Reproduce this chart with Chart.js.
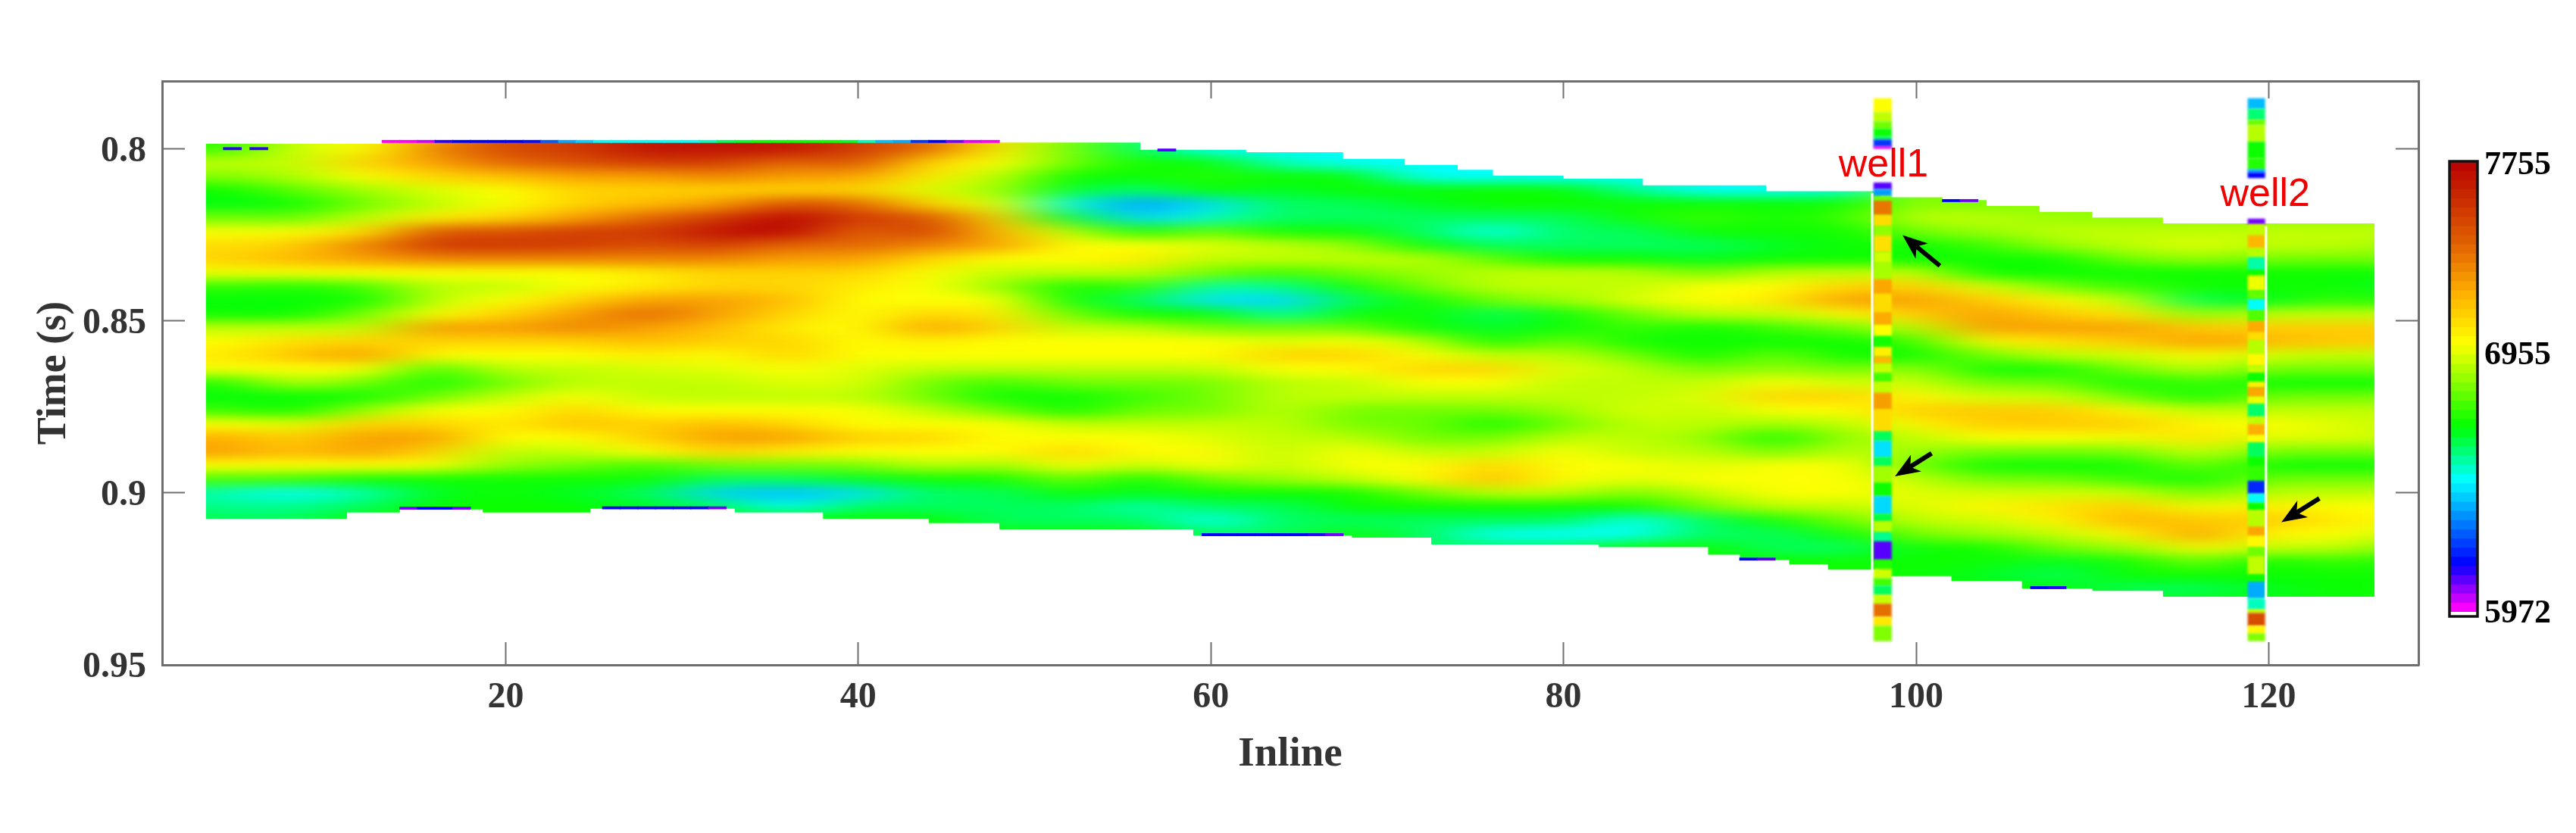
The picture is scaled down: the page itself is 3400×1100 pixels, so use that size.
<!DOCTYPE html>
<html><head><meta charset="utf-8"><title>Inline section with wells</title>
<style>
html,body{margin:0;background:#fff;width:3400px;height:1100px;overflow:hidden}
canvas{position:absolute;display:block}
</style>
<script src="https://cdn.jsdelivr.net/npm/chart.js@4"></script>
</head><body>
<canvas id="main" width="3400" height="1100" style="left:0;top:0;width:3400px;height:1100px"></canvas>
<canvas id="bar" width="200" height="650" style="left:3200px;top:190px;width:200px;height:650px"></canvas>
<script>
const inlineTicks=[20,40,60,80,100,120];
const timeTicks=[0.8,0.85,0.9,0.95];
const timeLabels=['0.8','0.85','0.9','0.95'];
const rowTimes=[0.796,0.8,0.804,0.808,0.812,0.816,0.82,0.824,0.828,0.832,0.836,0.84,0.844,0.848,0.852,0.856,0.86,0.864,0.868,0.872,0.876,0.88,0.884,0.888,0.892,0.896,0.9,0.904,0.908,0.912,0.916,0.92,0.924,0.928,0.932,0.936];
const colInlines=[0,4,8,12,16,20,24,28,32,36,40,44,48,52,56,60,64,68,72,76,80,84,88,92,96,100,104,108,112,116,120,124,128];
const col000=[6740,6800,6960,6880,6730,6720,6860,7030,7130,7130,7020,6780,6720,6740,6960,7040,7090,7020,6760,6720,6800,7040,7240,7280,7040,6820,6620,6630,6680,6700,6700,6700,6700,6700,6700,6700];
const col004=[6740,6780,6960,6880,6730,6700,6860,7030,7130,7150,7020,6780,6710,6730,6960,7040,7090,7030,6760,6710,6790,7040,7240,7280,7040,6800,6560,6600,6650,6700,6700,6700,6700,6700,6700,6700];
const col008=[6980,6980,6960,6940,6830,6730,6840,7030,7160,7220,7030,6750,6720,6720,6960,7120,7190,7040,6950,6720,6730,7000,7150,7200,7040,6790,6500,6600,6640,6660,6660,6660,6660,6660,6660,6660];
const col012=[7040,7040,7150,7040,6920,6860,6960,7120,7350,7280,7040,6800,6730,6860,6960,7150,7280,7040,6860,6730,6910,7150,7280,7280,7040,6730,6570,6640,6730,6730,6730,6730,6730,6730,6730,6730];
const col016=[7250,7350,7280,7150,7000,6960,7090,7480,7580,7350,7040,6960,6960,7040,7300,7150,7040,6790,6730,6860,7040,7150,7280,7150,7040,6730,6690,6730,6730,6730,6730,6730,6730,6730,6730,6730];
const col020=[7500,7520,7420,7200,7040,7040,7150,7480,7580,7350,7040,6960,7040,7150,7280,7150,7040,6960,6860,6960,7040,7090,7040,6960,6900,6730,6730,6730,6730,6730,6730,6730,6730,6730,6730,6730];
const col024=[7560,7560,7490,7280,7150,7150,7280,7560,7560,7350,7040,7040,7150,7280,7350,7150,7040,6960,6960,7040,7150,7200,7040,6960,6860,6730,6690,6730,6730,6730,6730,6730,6730,6730,6730,6730];
const col028=[7700,7700,7560,7280,7150,7210,7420,7560,7490,7350,7090,7090,7280,7420,7280,7210,7090,6990,6960,6960,7040,7150,7150,7040,6790,6730,6640,6690,6730,6730,6730,6730,6730,6730,6730,6730];
const col032=[7700,7700,7560,7350,7150,7280,7560,7700,7560,7350,7150,7150,7280,7280,7210,7150,7040,7000,6960,6960,7040,7210,7280,7150,6860,6640,6450,6640,6730,6730,6730,6730,6730,6730,6730,6730];
const col036=[7700,7700,7420,7280,7150,7490,7750,7750,7420,7280,7150,7150,7210,7150,7090,7150,7150,7040,7000,6960,7040,7150,7280,7090,6860,6640,6420,6510,6730,6730,6730,6730,6730,6730,6730,6730];
const col040=[7560,7560,7490,7280,7150,7420,7560,7420,7420,7280,7150,7090,7040,7040,7040,7040,7040,7000,7000,6960,7040,7040,7150,7040,6860,6690,6470,6640,6730,6730,6730,6730,6730,6730,6730,6730];
const col044=[7420,7420,7150,7090,7000,7150,7490,7560,7350,7150,7040,7040,7040,7150,7280,7090,7040,6960,6860,6860,6960,7040,7150,7040,6960,6730,6640,6640,6730,6730,6730,6730,6730,6730,6730,6730];
const col048=[7090,7090,7040,6960,6910,7000,7150,7210,7280,7040,6960,6910,7040,7090,7150,7040,7040,6960,6790,6730,6860,7040,7040,7040,6910,6730,6640,6640,6640,6730,6730,6730,6730,6730,6730,6730];
const col052=[6860,6860,6860,6730,6680,6520,6680,6960,7040,7040,6960,6730,6730,6860,6960,7040,7040,6960,6860,6730,6730,6960,7040,7150,7040,6860,6730,6640,6640,6730,6730,6730,6730,6730,6730,6730];
const col056=[6640,6640,6730,6730,6620,6380,6450,6730,7040,7090,6960,6790,6640,6730,6960,7040,7040,6960,6860,6790,6860,6960,7040,7040,6960,6730,6690,6570,6640,6730,6730,6730,6730,6730,6730,6730];
const col060=[6510,6510,6730,6760,6730,6470,6560,6860,7000,6960,6860,6580,6470,6730,6860,7040,7040,6960,6860,6860,6860,6960,7000,7060,7040,6860,6730,6640,6510,6640,6640,6640,6640,6640,6640,6640];
const col064=[6510,6510,6560,6730,6680,6640,6640,6730,6960,6960,6790,6600,6450,6580,6860,7000,7150,7040,6960,6960,6960,6960,6960,6960,6960,6910,6730,6640,6640,6640,6640,6640,6640,6640,6640,6640];
const col068=[6510,6510,6510,6730,6730,6640,6640,6730,6910,6960,6860,6730,6640,6730,6860,7040,7150,7040,6960,6960,6860,6860,6960,7040,7040,6960,6730,6730,6640,6730,6730,6730,6730,6730,6730,6730];
const col072=[6510,6510,6510,6510,6730,6690,6640,6640,6730,6960,6910,6860,6730,6730,6730,6960,7040,7150,7040,6960,6860,6860,6860,6960,7040,7040,6860,6730,6640,6640,6640,6640,6640,6640,6640,6640];
const col076=[6510,6510,6510,6510,6730,6730,6640,6510,6640,6830,6960,6960,6860,6640,6680,6730,6960,7150,7040,6960,6860,6730,6860,6960,7150,7210,6960,6730,6640,6510,6640,6640,6640,6640,6640,6640];
const col080=[6510,6510,6510,6510,6730,6730,6640,6640,6640,6730,6960,6960,6910,6730,6730,6860,6960,7000,6960,6960,6910,6860,6960,7040,7040,7040,6960,6730,6640,6510,6640,6640,6640,6640,6640,6640];
const col084=[6510,6510,6510,6510,6600,6730,6730,6640,6640,6730,6960,6960,7000,6860,6790,6730,6860,6960,6960,6960,7000,6960,6960,6960,7040,7000,6860,6730,6510,6510,6730,6730,6730,6730,6730,6730];
const col088=[6510,6510,6510,6510,6510,6730,6790,6730,6640,6690,6860,7040,7040,6960,6730,6730,6730,6860,6960,7000,6960,6960,6910,6960,7000,7040,6960,6860,6640,6640,6730,6730,6730,6730,6730,6730];
const col092=[6510,6510,6510,6510,6510,6730,6730,6730,6690,6730,6960,7040,7090,6960,6790,6730,6860,6910,7040,7150,7040,6910,6730,6860,7040,7040,7040,6960,6730,6640,6640,6730,6730,6730,6730,6730];
const col096=[6540,6540,6540,6540,6540,6730,6790,6730,6730,6730,6960,7150,7280,7060,6860,6730,6730,6860,6980,7150,7040,6960,6910,6960,7040,7040,7040,6960,6860,6730,6640,6730,6730,6730,6730,6730];
const col100=[6900,6900,6900,6900,6900,6910,6960,6860,6730,6730,6980,7170,7280,7170,6960,6790,6730,6910,6980,7060,7170,7060,6960,6910,6860,6960,7000,7000,6960,6860,6730,6730,6730,6730,6730,6730];
const col104=[6860,6860,6860,6860,6860,6860,6960,6910,6790,6730,6730,7000,7170,7280,7280,7060,6860,6730,6860,6980,7170,7170,7040,6860,6730,6860,6980,7060,6980,6910,6730,6730,6690,6730,6730,6730];
const col108=[6900,6900,6900,6900,6900,6900,6910,6960,6910,6730,6730,6860,7060,7170,7280,7120,6960,6730,6860,6980,7170,7170,7040,6860,6730,6860,6980,7110,7060,6960,6860,6690,6640,6730,6730,6730];
const col112=[6900,6900,6900,6900,6900,6900,6900,6960,6960,6860,6730,6790,6960,7110,7280,7170,6980,6860,6730,6860,7060,7170,7020,6860,6730,6790,6980,7170,7230,7060,6910,6730,6730,6640,6730,6730];
const col116=[6900,6900,6900,6900,6900,6900,6900,6960,7000,6910,6730,6730,6640,6890,7170,7280,7060,6960,6790,6730,6960,7060,7110,6980,6860,6730,6860,7020,7170,7280,7060,6860,6730,6640,6730,6730];
const col120=[6900,6900,6900,6900,6900,6900,6900,6960,6960,6860,6730,6730,6700,6960,7170,7220,6980,6860,6730,6860,6960,7040,7000,6860,6730,6860,6960,7090,7170,7060,6960,6730,6730,6690,6730,6730];
const col124=[6900,6900,6900,6900,6900,6900,6900,6960,6960,6860,6730,6730,6790,6960,7170,7170,6960,6860,6730,6860,6960,7000,7000,6860,6730,6860,6960,7040,7090,7040,6960,6790,6730,6730,6730,6730];
const col128=[6900,6900,6900,6900,6900,6900,6900,6960,6910,6860,6730,6690,6730,6960,7170,7170,6960,6860,6730,6860,6960,6960,6960,6860,6730,6860,6960,7040,7040,6960,6860,6730,6730,6730,6730,6730];
const heatColumns=[col000,col004,col008,col012,col016,col020,col024,col028,col032,col036,col040,col044,col048,col052,col056,col060,col064,col068,col072,col076,col080,col084,col088,col092,col096,col100,col104,col108,col112,col116,col120,col124,col128];

const topEdgeInline=[3,13,48,56,62,67.5,71,74,76,80,84.5,91.5,98,101.5,104,107,110,114];
const topEdgeTime=[0.7985,0.7978,0.7982,0.8003,0.801,0.8029,0.8047,0.8061,0.8078,0.8087,0.8106,0.8123,0.8141,0.8149,0.8166,0.8183,0.82,0.8217];
const bottomEdgeInline=[3,11,14,18.7,24.8,33,38,44,48,59,68,72.5,82,88.2,90,92.8,95,98,102,106,110,114];
const bottomEdgeTime=[0.9075,0.9057,0.9048,0.9057,0.9046,0.9057,0.9075,0.9088,0.9106,0.9124,0.913,0.915,0.9158,0.918,0.9195,0.9208,0.9223,0.9242,0.9256,0.9278,0.9285,0.9302];
const edgeEndInline=126;

const topFringeInline=[13.5,14.5,15.5,16.5,17.5,18.5,19.5,20.5,21.5,22.5,23.5,24.5,25.5,26.5,27.5,28.5,29.5,30.5,31.5,32.5,33.5,34.5,35.5,36.5,37.5,38.5,39.5,40.5,41.5,42.5,43.5,44.5,45.5,46.5,47.5];
const topFringeValue=[5990,5990,6040,6150,6180,6180,6180,6180,6200,6300,6400,6450,6510,6510,6510,6510,6510,6510,6560,6640,6680,6730,6730,6730,6730,6730,6680,6560,6430,6400,6250,6180,6100,6020,5990];
const topFringeTime=0.7975;
const spotInline=[4.5,6,57.5,14.5,15.5,16.5,17.5,26,27,28,29,30,31,32,60,61,62,63,64,65,66,67,90.5,91.5,102,103,107,108];
const spotTime=[0.7996,0.7996,0.8,0.9041,0.9041,0.9041,0.9041,0.904,0.904,0.904,0.904,0.904,0.904,0.904,0.9118,0.9118,0.9118,0.9118,0.9118,0.9118,0.9118,0.9118,0.9189,0.9189,0.8147,0.8147,0.9272,0.9272];
const spotValue=[6150,6150,6120,6100,6180,6180,6100,6180,6180,6180,6180,6180,6180,6100,6180,6180,6180,6180,6180,6180,6150,6100,6180,6120,6180,6100,6180,6150];
const fringeSpan=0.0007;

const well1Inline=98.1;
const well1Edges=[0.7854,0.7894,0.7921,0.7942,0.7964,0.7974,0.7993,0.7999,0.8099,0.8118,0.8138,0.8152,0.8193,0.8225,0.8252,0.83,0.8332,0.838,0.8422,0.8476,0.8513,0.8545,0.8577,0.8604,0.8625,0.8652,0.8678,0.871,0.8758,0.8822,0.8849,0.8897,0.8923,0.8971,0.9009,0.9062,0.9083,0.9115,0.9142,0.9195,0.9222,0.9249,0.927,0.9297,0.9323,0.9361,0.9387,0.943];
const well1Values=[7040,6960,6860,6730,6640,6250,6030,null,6120,6380,6860,7380,7130,6900,7120,6980,6930,7260,7130,7250,7040,6740,7080,7220,6970,6800,6960,7280,7130,6640,6470,6640,6920,6730,6460,6660,6950,6600,6120,6760,6980,6800,6640,6970,7400,7100,6880];
const well2Inline=119.3;
const well2Edges=[0.7854,0.7884,0.7916,0.7932,0.798,0.8028,0.806,0.807,0.8084,0.8204,0.822,0.8252,0.8289,0.8316,0.8353,0.8369,0.8412,0.8438,0.847,0.8502,0.8534,0.8556,0.8598,0.863,0.8652,0.8678,0.8694,0.8721,0.8742,0.8779,0.8801,0.8833,0.8854,0.8897,0.8923,0.8966,0.9003,0.903,0.9051,0.9099,0.9126,0.9158,0.9185,0.9238,0.9259,0.9307,0.9339,0.935,0.9387,0.9409,0.943];
const well2Values=[6420,6620,6850,6950,6730,6760,6400,6180,null,6100,6960,7220,6950,6580,6730,7020,6840,6510,6820,7250,7130,6950,7060,6960,6730,7080,7260,7020,6630,6960,7240,7040,6640,6730,6780,6230,6510,6720,6950,7260,7060,6860,6960,6730,6400,6560,6960,7500,7060,6880];
const stripeInline=[97.5,119.84];
const stripeTop=[0.8129,0.8225];
const stripeBottom=[0.9229,0.931];

const wellNames=['well1','well2'];
const wellLabelInline=[98.15,119.8];
const wellLabelTime=[0.808,0.8167];
const arrowTailInline=[101.35,100.88,122.87];
const arrowTailTime=[0.834,0.8885,0.9016];
const arrowTipInline=[99.23,98.8,120.72];
const arrowTipTime=[0.8251,0.8952,0.9085];

const colorbarLevels=[7755,7719,7683,7647,7611,7575,7539,7503,7467,7431,7395,7359,7323,7287,7251,7215,7179,7143,7107,7071,7035,6999,6963,6927,6891,6855,6819,6783,6747,6711,6675,6639,6603,6567,6531,6495,6459,6423,6387,6351,6315,6279,6243,6207,6171,6135,6099,6063,6027,5991,5972];
const colorbarTickPos=[7737,6993,5981];
const colorbarLabels=['7755','6955','5972'];

const stopValue=[5972,5985,6004,6180,6507,6716,7042,7238,7434,7755];
const stopRGB=[[255,255,255],[255,0,255],[255,0,255],[0,0,255],[0,255,255],[0,255,0],[255,255,0],[255,176,0],[224,96,0],[184,0,0]];

function colorOf(v){
  if(v<=stopValue[0])return 'rgb(255,255,255)';
  for(let i=1;i<stopValue.length;i++){
    if(v<=stopValue[i]){
      const f=(v-stopValue[i-1])/(stopValue[i]-stopValue[i-1]);
      const a=stopRGB[i-1],b=stopRGB[i];
      return 'rgb('+[0,1,2].map(k=>Math.round(a[k]+(b[k]-a[k])*f)).join(',')+')';
    }
  }
  return 'rgb(184,0,0)';
}

const halfRow=0.002;
const datasets=rowTimes.map((t,r)=>({
  label:'t'+t,order:1,grouped:false,barThickness:95,borderWidth:0,inflateAmount:0,clip:false,
  data:colInlines.map(x=>({x:x,y:[t-halfRow,t+halfRow]})),
  backgroundColor:heatColumns.map(c=>colorOf(c[r]))
}));
datasets.push({label:'topEdge',order:0,grouped:false,barThickness:24,borderWidth:0,
  data:topFringeInline.map(x=>({x:x,y:[topFringeTime,topFringeTime+fringeSpan]})),
  backgroundColor:topFringeValue.map(colorOf)});
datasets.push({label:'spots',order:0,grouped:false,barThickness:24,borderWidth:0,
  data:spotInline.map((x,i)=>({x:x,y:[spotTime[i],spotTime[i]+fringeSpan]})),
  backgroundColor:spotValue.map(colorOf)});
datasets.push({label:'stripe',order:0,grouped:false,barThickness:3,borderWidth:0,
  data:stripeInline.map((x,i)=>({x:x,y:[stripeTop[i],stripeBottom[i]]})),
  backgroundColor:'rgba(255,255,255,0.9)'});
function wellSet(name,x,edges,vals,w){
  const data=[],cols=[];
  vals.forEach((v,i)=>{if(v===null)return;data.push({x:x,y:[edges[i],edges[i+1]]});cols.push(colorOf(v));});
  return {label:name,isWell:true,order:0,grouped:false,barThickness:w,borderWidth:0,inflateAmount:0.5,data:data,backgroundColor:cols};
}
datasets.push(wellSet('well1',well1Inline,well1Edges,well1Values,23));
datasets.push(wellSet('well2',well2Inline,well2Edges,well2Values,22));

const heatSmooth={
  id:'heatSmooth',
  beforeDatasetsDraw(chart){
    const s=document.createElement('canvas');s.width=chart.canvas.width;s.height=chart.canvas.height;
    s.getContext('2d').drawImage(chart.canvas,0,0);
    chart.$snapshot=s;
    chart.ctx.clearRect(0,0,s.width,s.height);
  },
  beforeDatasetDraw(chart,args){
    if(chart.data.datasets[args.index].isWell){chart.ctx.save();chart.ctx.filter='blur(1.5px)';}
  },
  afterDatasetDraw(chart,args){
    if(chart.data.datasets[args.index].isWell){chart.ctx.restore();return;}
    if(args.index!==0)return;
    const ctx=chart.ctx,sx=chart.scales.x,sy=chart.scales.y,W=chart.canvas.width,H=chart.canvas.height;
    const k=6;
    const off=document.createElement('canvas');off.width=Math.round(W/k);off.height=H;
    const oc=off.getContext('2d');
    oc.filter='blur(7.5px)';
    oc.drawImage(chart.canvas,0,0,W,H,0,0,off.width,H);
    ctx.save();
    ctx.setTransform(1,0,0,1,0,0);
    ctx.clearRect(0,0,W,H);
    ctx.drawImage(chart.$snapshot,0,0);
    ctx.beginPath();
    topEdgeInline.forEach((x,i)=>{
      const next=i+1<topEdgeInline.length?topEdgeInline[i+1]:edgeEndInline;
      const y=sy.getPixelForValue(topEdgeTime[i]);
      if(i===0)ctx.moveTo(sx.getPixelForValue(x),y);else ctx.lineTo(sx.getPixelForValue(x),y);
      ctx.lineTo(sx.getPixelForValue(next),y);
    });
    for(let i=bottomEdgeInline.length-1;i>=0;i--){
      const next=i+1<bottomEdgeInline.length?bottomEdgeInline[i+1]:edgeEndInline;
      const y=sy.getPixelForValue(bottomEdgeTime[i]);
      ctx.lineTo(sx.getPixelForValue(next),y);
      ctx.lineTo(sx.getPixelForValue(bottomEdgeInline[i]),y);
    }
    ctx.closePath();
    ctx.clip();
    ctx.imageSmoothingEnabled=true;ctx.imageSmoothingQuality='high';
    ctx.drawImage(off,0,0,off.width,H,0,0,W,H);
    ctx.restore();
  },
  afterDatasetsDraw(chart){
    const ctx=chart.ctx,sx=chart.scales.x,sy=chart.scales.y;
    ctx.save();
    ctx.fillStyle='#f00000';ctx.font='52px "Liberation Sans"';ctx.textAlign='center';ctx.textBaseline='alphabetic';
    wellNames.forEach((n,i)=>ctx.fillText(n,sx.getPixelForValue(wellLabelInline[i]),sy.getPixelForValue(wellLabelTime[i])));
    ctx.fillStyle='#000';ctx.strokeStyle='#000';ctx.lineWidth=6;
    arrowTipInline.forEach((_,i)=>{
      const x1=sx.getPixelForValue(arrowTailInline[i]),y1=sy.getPixelForValue(arrowTailTime[i]);
      const x2=sx.getPixelForValue(arrowTipInline[i]),y2=sy.getPixelForValue(arrowTipTime[i]);
      const an=Math.atan2(y2-y1,x2-x1),L=33,B=13;
      const bx=x2-Math.cos(an)*L,by=y2-Math.sin(an)*L,nx=-Math.sin(an),ny=Math.cos(an);
      const ix=x2-Math.cos(an)*L*0.72,iy=y2-Math.sin(an)*L*0.72;
      ctx.beginPath();ctx.moveTo(x1,y1);ctx.lineTo(ix,iy);ctx.stroke();
      ctx.beginPath();ctx.moveTo(x2,y2);ctx.lineTo(bx+nx*B,by+ny*B);ctx.lineTo(ix,iy);ctx.lineTo(bx-nx*B,by-ny*B);ctx.closePath();ctx.fill();
    });
    ctx.restore();
  }
};

const frameColor='#6e6e6e';
const tickFont={family:'"Liberation Serif"',weight:'bold',size:48};
const setTicks=list=>s=>{s.ticks=list.map(v=>({value:v}));};
new Chart(document.getElementById('main'),{
  type:'bar',
  data:{datasets:datasets},
  plugins:[heatSmooth],
  options:{
    responsive:false,animation:false,devicePixelRatio:1,
    layout:{padding:{top:107,right:208,left:0,bottom:0}},
    plugins:{legend:{display:false},tooltip:{enabled:false}},
    scales:{
      x:{type:'linear',position:'bottom',min:0.516,max:128.49,offset:false,
        afterBuildTicks:setTicks(inlineTicks),afterFit(s){s.height=222;},
        grid:{offset:false,drawOnChartArea:false,tickLength:-30,tickWidth:2,tickColor:frameColor},
        border:{color:frameColor,width:3},
        ticks:{autoSkip:false,maxRotation:0,padding:45,color:'#333',font:tickFont,callback:v=>String(v)},
        title:{display:true,text:'Inline',color:'#333',font:{family:'"Liberation Serif"',weight:'bold',size:55},padding:{top:0,bottom:70}}},
      x2:{axis:'x',type:'linear',position:'top',min:0.516,max:128.49,offset:false,
        afterBuildTicks:setTicks(inlineTicks),afterFit(s){s.height=0;},
        grid:{offset:false,drawOnChartArea:false,tickLength:-23,tickWidth:2,tickColor:frameColor},
        border:{color:frameColor,width:3},ticks:{display:false}},
      y:{type:'linear',position:'left',reverse:true,min:0.7803,max:0.95,
        afterBuildTicks:setTicks(timeTicks),afterFit(s){s.width=214;},
        grid:{drawOnChartArea:false,tickLength:-30,tickWidth:2,tickColor:frameColor},
        border:{color:frameColor,width:3},
        ticks:{autoSkip:false,padding:51,labelOffset:4,color:'#333',font:tickFont,callback:(v,i)=>timeLabels[i]},
        title:{display:true,text:'Time (s)',color:'#333',font:{family:'"Liberation Serif"',weight:'bold',size:54},padding:{top:40,bottom:0}}},
      y2:{axis:'y',type:'linear',position:'right',reverse:true,min:0.7803,max:0.95,
        afterBuildTicks:setTicks(timeTicks),afterFit(s){s.width=0;},
        grid:{drawOnChartArea:false,tickLength:-30,tickWidth:2,tickColor:frameColor},
        border:{color:frameColor,width:3},ticks:{display:false}}
    }
  }
});

const barSets=[];
for(let i=0;i<colorbarLevels.length-1;i++){
  const hi=colorbarLevels[i],lo=colorbarLevels[i+1];
  barSets.push({label:String(hi),grouped:false,barPercentage:1,categoryPercentage:1,borderWidth:0,inflateAmount:0.5,
    data:[[lo,hi]],backgroundColor:colorOf(i===colorbarLevels.length-2?lo:(lo+hi)/2)});
}
new Chart(document.getElementById('bar'),{
  type:'bar',
  data:{labels:['v'],datasets:barSets},
  plugins:[{id:'outline',afterDatasetsDraw(chart){
    const a=chart.chartArea,c=chart.ctx;
    c.save();c.strokeStyle='#111';c.lineWidth=3.5;c.strokeRect(a.left,a.top,a.right-a.left,a.bottom-a.top);c.restore();
  }}],
  options:{
    responsive:false,animation:false,devicePixelRatio:1,
    layout:{padding:{left:33,top:23,bottom:26,right:0}},
    plugins:{legend:{display:false},tooltip:{enabled:false}},
    scales:{
      x:{display:false,offset:true},
      y:{type:'linear',position:'right',min:5972,max:7755,
        afterBuildTicks:setTicks(colorbarTickPos),afterFit(s){s.width=130;s.paddingTop=0;s.paddingBottom=0;},
        grid:{display:false,drawTicks:false},border:{display:false},
        ticks:{autoSkip:false,padding:9,color:'#000',font:{family:'"Liberation Serif"',weight:'bold',size:44},callback:(v,i)=>colorbarLabels[i]}}
    }
  }
});
</script>
</body></html>
